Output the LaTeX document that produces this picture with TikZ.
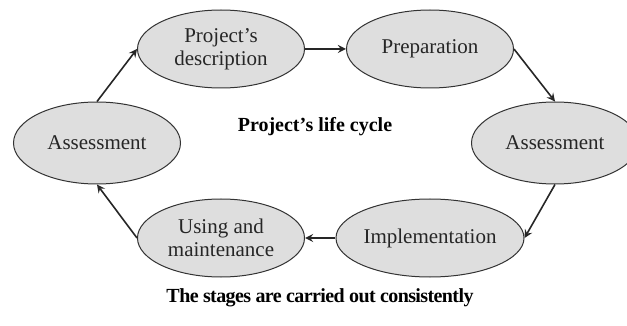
\documentclass[tikz,border=0pt]{standalone}
\usepackage{fontspec}
\setmainfont{Liberation Serif}
\usetikzlibrary{arrows,shapes.geometric}

\begin{document}
\begin{tikzpicture}[>=stealth, x=0.5pt, y=-0.5pt]
	\tikzstyle{stage} = [draw=black!80, fill=black!13, ellipse, line width=0.5pt, minimum width=83.5pt, minimum height=39pt, inner sep=0pt, align=center, font=\fontsize{10.5}{11.5}\selectfont]
	\tikzstyle{caption} = [font=\fontsize{10}{12}\selectfont\bfseries]
	\useasboundingbox (0,0) rectangle (627,326);
	\begin{scope}
	  \path[->, line width=0.8pt, black!85]
	  node[stage] (desc) at (221,49) {Project's\\description}
	  node[stage] (prep) at (430,49) {Preparation}
	  node[stage, minimum height=41pt] (assessR) at (555,143) {Assessment}
	  node[stage] (impl) at (430,238) {Implementation}
	  node[stage] (usage) at (221,238) {Using and\\maintenance}
	  node[stage, minimum height=41pt] (assessL) at (97,143) {Assessment}
	  node[caption, black] (cycle) at (315,127) {Project's life cycle}
	  node[caption, black] (note) at (320,298) {\addfontfeature{LetterSpace=-3}The stages are carried out consistently}
	  (assessL.north) edge (desc.west)
	  (desc) edge (prep)
	  (prep.east) edge (assessR.north)
	  (assessR.south) edge (impl.east)
	  (impl) edge (usage)
	  (usage.west) edge (assessL.south)
	  ;
	\end{scope}
\end{tikzpicture}
\end{document}
